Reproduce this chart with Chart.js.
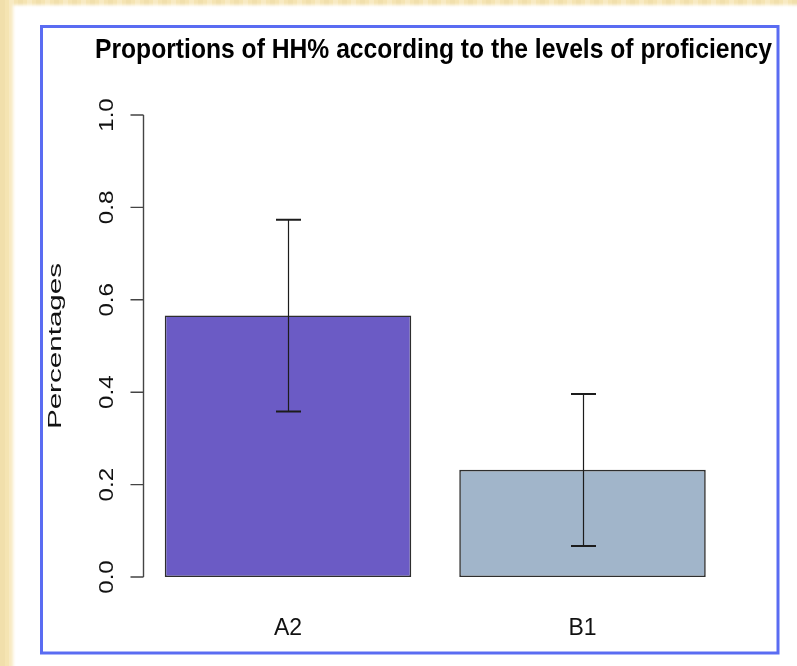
<!DOCTYPE html>
<html>
<head>
<meta charset="utf-8">
<script src="https://cdn.jsdelivr.net/npm/chart.js@4.4.1/dist/chart.umd.min.js"></script>
<style>
  html, body { margin: 0; padding: 0; background: #fff; }
  #wrap { width: 797px; height: 666px; }
</style>
</head>
<body>
<div id="wrap"><canvas id="c" width="797" height="666"></canvas></div>
<script>
// Proficiency levels and the share of HH% in each, with the interval bounds
const levels = ['A2', 'B1'];
const proportions = [0.566, 0.232];
const ciLower = [0.358, 0.067];
const ciUpper = [0.773, 0.396];
const yTicks = [0.0, 0.2, 0.4, 0.6, 0.8, 1.0];
const barColors = ['#6b5bc5', '#a1b5ca'];

const FONT = "'Liberation Sans', Arial, Helvetica, sans-serif";

// Cream slide background, white page and blue frame
const pageBackground = {
  id: 'pageBackground',
  beforeDraw(chart) {
    const ctx = chart.ctx, W = chart.width, H = chart.height;
    ctx.save();
    ctx.fillStyle = '#f5e4b2';
    ctx.fillRect(0, 0, W, H);
    for (let sx = 0; sx < W; sx += 9) {
      ctx.fillStyle = (sx / 9) % 2 ? 'rgba(255,250,232,0.3)' : 'rgba(222,196,136,0.15)';
      ctx.fillRect(sx, 0, 5, H);
    }
    ctx.filter = 'blur(1.5px)';
    ctx.fillStyle = '#ffffff';
    ctx.fillRect(13, 5, W + 20, H + 20);
    ctx.filter = 'blur(0.5px)';
    ctx.strokeStyle = '#5a6cf2';
    ctx.lineWidth = 3;
    ctx.strokeRect(41.5, 26.5, 736.5, 626.5);
    ctx.restore();
  }
};

// Left axis in base-graphics style: line from first to last tick, rotated labels
const leftAxis = {
  id: 'leftAxis',
  afterDraw(chart) {
    const ctx = chart.ctx, y = chart.scales.y;
    const ax = 143.5;
    ctx.save();
    ctx.strokeStyle = '#444';
    ctx.lineWidth = 1.4;
    ctx.beginPath();
    ctx.moveTo(ax, y.getPixelForValue(y.ticks[0].value));
    ctx.lineTo(ax, y.getPixelForValue(y.ticks[y.ticks.length - 1].value));
    y.ticks.forEach(t => {
      const py = y.getPixelForValue(t.value);
      ctx.moveTo(ax - 13, py);
      ctx.lineTo(ax, py);
    });
    ctx.stroke();

    ctx.fillStyle = '#111';
    ctx.textAlign = 'center';
    ctx.textBaseline = 'alphabetic';
    ctx.font = '19.5px ' + FONT;
    y.ticks.forEach(t => {
      const py = y.getPixelForValue(t.value);
      ctx.save();
      ctx.translate(112.5, py);
      ctx.rotate(-Math.PI / 2);
      ctx.scale(1.24, 1);
      ctx.fillText(t.value.toFixed(1), 0, 0);
      ctx.restore();
    });

    ctx.font = '18.5px ' + FONT;
    ctx.fillStyle = '#111';
    ctx.save();
    ctx.translate(60.5, (y.top + y.bottom) / 2);
    ctx.rotate(-Math.PI / 2);
    ctx.scale(1.6, 1);
    ctx.fillText('Percentages', 0, 0);
    ctx.restore();
    ctx.restore();
  }
};

// Interval whiskers on top of each bar
const errorBars = {
  id: 'errorBars',
  afterDatasetsDraw(chart) {
    const ctx = chart.ctx, x = chart.scales.x, y = chart.scales.y;
    ctx.save();
    ctx.strokeStyle = '#1c1c1c';
    levels.forEach((lv, i) => {
      const px = Math.round(x.getPixelForValue(i)) + 0.5;
      const top = y.getPixelForValue(ciUpper[i]);
      const bot = y.getPixelForValue(ciLower[i]);
      ctx.lineWidth = 1.2;
      ctx.beginPath();
      ctx.moveTo(px, top);
      ctx.lineTo(px, bot);
      ctx.stroke();
      ctx.lineWidth = 2;
      ctx.beginPath();
      ctx.moveTo(px - 12.5, top); ctx.lineTo(px + 12.5, top);
      ctx.moveTo(px - 12.5, bot); ctx.lineTo(px + 12.5, bot);
      ctx.stroke();
    });
    ctx.restore();
  }
};

new Chart(document.getElementById('c'), {
  type: 'bar',
  data: {
    labels: levels,
    datasets: [{
      data: proportions,
      backgroundColor: barColors,
      borderColor: '#2e2e2e',
      borderWidth: 1.6,
      borderSkipped: false,
      barPercentage: 1,
      categoryPercentage: 0.837
    }]
  },
  options: {
    responsive: false,
    animation: false,
    devicePixelRatio: 1,
    layout: { padding: { left: 95, right: 25, top: 0, bottom: 0 } },
    plugins: {
      legend: { display: false },
      tooltip: { enabled: false },
      title: {
        display: true,
        text: 'Proportions of HH% according to the levels of proficiency',
        color: '#000',
        font: { family: FONT, size: 28, weight: 'bold' },
        padding: { top: 33.2, bottom: 48.2 }
      }
    },
    scales: {
      x: {
        grid: { display: false, drawTicks: false },
        border: { display: false },
        ticks: { color: '#111', font: { family: FONT, size: 23 }, padding: 38 },
        afterFit: s => { s.height = 89; }
      },
      y: {
        min: 0,
        max: 1,
        grid: { display: false, drawTicks: false },
        border: { display: false },
        ticks: { display: false },
        afterBuildTicks: s => { s.ticks = yTicks.map(v => ({ value: v })); },
        afterFit: s => { s.width = 45.75; }
      },
      yRight: {
        position: 'right',
        grid: { display: false, drawTicks: false },
        border: { display: false },
        ticks: { display: false },
        afterFit: s => { s.width = 42.25; }
      }
    }
  },
  plugins: [pageBackground, leftAxis, errorBars]
});
</script>
</body>
</html>
